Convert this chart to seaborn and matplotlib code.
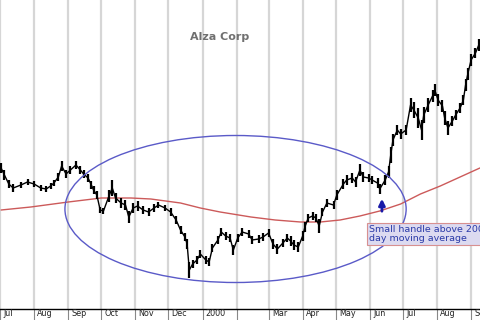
import numpy as np
import pandas as pd
import matplotlib
matplotlib.use("Agg")
import matplotlib.pyplot as plt
from matplotlib.patches import Ellipse
import matplotlib.transforms as mtransforms
import seaborn as sns

# ---- data (days since 1999-07-01, prices) ----
days = [1, 4, 8, 12, 19, 25, 31, 37, 42, 46, 49, 53, 56, 60, 64, 69, 73, 76, 80, 83,
        85, 88, 91, 94, 99, 102, 105, 110, 114, 117, 121, 125, 130, 135, 140, 144, 150, 155, 160, 164,
        168, 170, 172, 175, 179, 182, 187, 190, 193, 198, 201, 205, 209, 212, 216, 220, 226, 229, 235, 239,
        244, 248, 252, 257, 261, 264, 267, 271, 275, 277, 280, 284, 287, 290, 293, 297, 303, 306, 312, 315,
        320, 323, 327, 330, 335, 338, 343, 345, 350, 353, 355, 357, 361, 364, 369, 373, 376, 380, 383, 385,
        389, 393, 395, 398, 402, 404, 407, 411, 414, 418, 421, 423, 425, 428, 432, 435]
close = [48.4, 47.0, 45.2, 44.4, 45.0, 45.6, 45.2, 44.4, 44.2, 44.8, 45.4, 46.6, 48.8, 47.2, 48.0, 49.0, 48.0, 47.2, 46.4, 45.0,
         44.0, 43.0, 40.0, 39.8, 42.8, 44.4, 42.4, 41.4, 41.0, 38.6, 40.4, 40.8, 40.0, 39.6, 40.4, 41.0, 40.4, 39.6, 38.0, 36.0,
         34.6, 33.2, 28.0, 29.2, 30.0, 31.2, 30.0, 29.6, 32.4, 34.0, 35.6, 34.8, 34.4, 32.0, 34.4, 35.6, 35.2, 34.0, 34.2, 34.6,
         35.4, 33.2, 32.2, 33.4, 34.4, 33.8, 33.0, 32.6, 34.8, 36.6, 38.4, 38.8, 38.4, 36.8, 39.6, 41.4, 41.0, 43.0, 45.2, 46.0,
         46.4, 45.6, 48.0, 46.6, 46.4, 46.0, 45.4, 44.2, 46.0, 47.6, 51.0, 54.0, 56.0, 55.2, 56.0, 61.0, 60.0, 58.4, 56.0, 59.0,
         61.0, 62.8, 64.0, 62.0, 60.8, 58.4, 56.4, 57.8, 59.0, 60.4, 62.0, 65.0, 67.2, 70.0, 71.4, 73.0]
high = [49.4, 48.0, 46.0, 45.2, 45.6, 46.2, 45.8, 45.0, 44.8, 45.4, 46.0, 47.4, 49.8, 48.0, 48.8, 49.8, 48.8, 48.0, 47.2, 45.8,
        44.8, 43.8, 40.6, 40.4, 44.0, 46.0, 43.4, 42.4, 42.0, 39.8, 41.4, 41.8, 40.8, 40.4, 41.2, 41.6, 41.0, 40.4, 38.8, 36.8,
        35.4, 34.2, 29.6, 30.0, 30.8, 32.0, 30.8, 30.4, 33.2, 34.8, 36.4, 35.6, 35.2, 33.0, 35.2, 36.4, 36.0, 34.8, 35.0, 35.4,
        36.2, 34.2, 33.2, 34.2, 35.2, 34.8, 34.0, 33.6, 35.8, 37.6, 39.2, 39.6, 39.2, 38.2, 40.4, 42.2, 41.8, 44.0, 46.2, 47.0,
        47.4, 46.6, 49.2, 47.6, 47.2, 46.8, 46.4, 45.2, 47.0, 48.8, 52.6, 55.2, 57.0, 56.2, 57.0, 62.4, 61.6, 60.4, 58.0, 60.6,
        62.4, 64.0, 65.2, 63.2, 62.0, 59.8, 57.8, 58.8, 60.0, 61.4, 63.0, 66.2, 68.4, 71.2, 72.4, 74.2]
low = [47.4, 46.0, 44.4, 43.6, 44.4, 45.0, 44.6, 43.8, 43.6, 44.2, 44.8, 45.8, 47.8, 46.4, 47.2, 48.2, 47.2, 46.4, 45.6, 44.2,
       43.2, 42.2, 39.4, 39.2, 41.6, 42.8, 41.4, 40.4, 40.0, 37.4, 39.4, 39.8, 39.2, 38.8, 39.6, 40.4, 39.8, 38.8, 37.2, 35.2,
       33.8, 32.2, 26.4, 28.4, 29.2, 30.4, 29.2, 28.8, 31.6, 33.2, 34.8, 34.0, 33.6, 31.0, 33.6, 34.8, 34.4, 33.2, 33.4, 33.8,
       34.6, 32.2, 31.2, 32.6, 33.6, 32.8, 32.0, 31.6, 33.8, 35.6, 37.6, 38.0, 37.6, 35.4, 38.8, 40.6, 40.2, 42.0, 44.2, 45.0,
       45.4, 44.6, 46.8, 45.6, 45.6, 45.2, 44.4, 43.2, 45.0, 46.4, 49.4, 52.8, 55.0, 54.2, 55.0, 59.6, 58.4, 56.4, 54.0, 57.4,
       59.6, 61.6, 62.8, 60.8, 59.6, 57.0, 55.0, 56.8, 58.0, 59.4, 61.0, 63.8, 66.0, 68.8, 70.4, 71.8]

ma_days = [1, 28, 62, 92, 119, 137, 164, 182, 200, 228, 250, 273, 291, 309, 327, 345, 364, 382, 400, 418, 436]
ma_vals = [40.0, 40.6, 41.6, 42.4, 42.4, 42.2, 41.4, 40.4, 39.6, 38.6, 38.0, 37.6, 37.6, 38.0, 38.8, 39.8, 41.2, 43.2, 44.8, 46.6, 48.4]

month_labels = ["Jul", "Aug", "Sep", "Oct", "Nov", "Dec", "2000", "", "Mar", "Apr", "May", "Jun", "Jul", "Aug", "Sep"]
title = "Alza Corp"
note = "Small handle above 200\nday moving average"

# ---- figure ----
sns.set_theme(style="white")
plt.rcParams["font.family"] = ["DejaVu Sans"]
fig = plt.figure(figsize=(4.8, 3.2), dpi=100)
ax = fig.add_axes([0, 11 / 320, 1, 309 / 320])

start = pd.Timestamp("1999-07-01")
month_starts = pd.date_range("1999-07-01", "2000-09-01", freq="MS")
month_pos = [(m - start).days for m in month_starts]

for p in month_pos:
    ax.axvline(p, color="#d6d6d6", lw=1.6, zorder=0)

df = pd.DataFrame({"day": days, "close": close, "high": high, "low": low})
ax.vlines(df["day"], df["low"], df["high"], color="black", lw=1.6, zorder=3)
sns.lineplot(data=df, x="day", y="close", ax=ax, color="black", lw=1.0, zorder=3)

ma = pd.DataFrame({"day": ma_days, "ma": ma_vals})
sns.lineplot(data=ma, x="day", y="ma", ax=ax, color="#cc5a5a", lw=1.0, zorder=2)

ell = Ellipse((214, 40.2), 310, 29.4, fill=False, edgecolor="#5a5ac8", lw=1.0, zorder=4)
ax.add_patch(ell)

ax.annotate("", xy=(347, 42.8), xytext=(347, 39.2),
            arrowprops=dict(arrowstyle="-|>", lw=2.0, color="#1a1aa8", mutation_scale=9), zorder=5)

ax.text(335.5, 37.0, note, fontsize=6.8, color="#2a3aa8", va="top", ha="left", linespacing=1.05,
        bbox=dict(boxstyle="square,pad=0.22", facecolor="#dcdaf0", edgecolor="#d89090", lw=0.8), zorder=6)

ax.text(199.5, 74.6, title, fontsize=8, fontweight="bold", color="#707070", ha="center", va="center")

ax.set_xlim(0.9, 436.1)
ax.set_ylim(20.2, 82)
ax.set_xlabel("")
ax.set_ylabel("")
ax.set_yticks([])
ax.set_xticks(month_pos)
ax.set_xticklabels([])
ax.tick_params(axis="x", direction="out", length=8, width=0.8, color="#888888", bottom=True)
for s in ["top", "left", "right"]:
    ax.spines[s].set_visible(False)
ax.spines["bottom"].set_color("black")
ax.spines["bottom"].set_linewidth(1.0)

trans = mtransforms.blended_transform_factory(ax.transData, ax.transAxes)
for p, lab in zip(month_pos, month_labels):
    ax.text(p + 3, -7.5 / 309, lab, transform=trans, fontsize=5.8, color="#222222",
            ha="left", va="baseline", clip_on=False)

fig.savefig("out.png", dpi=100)
